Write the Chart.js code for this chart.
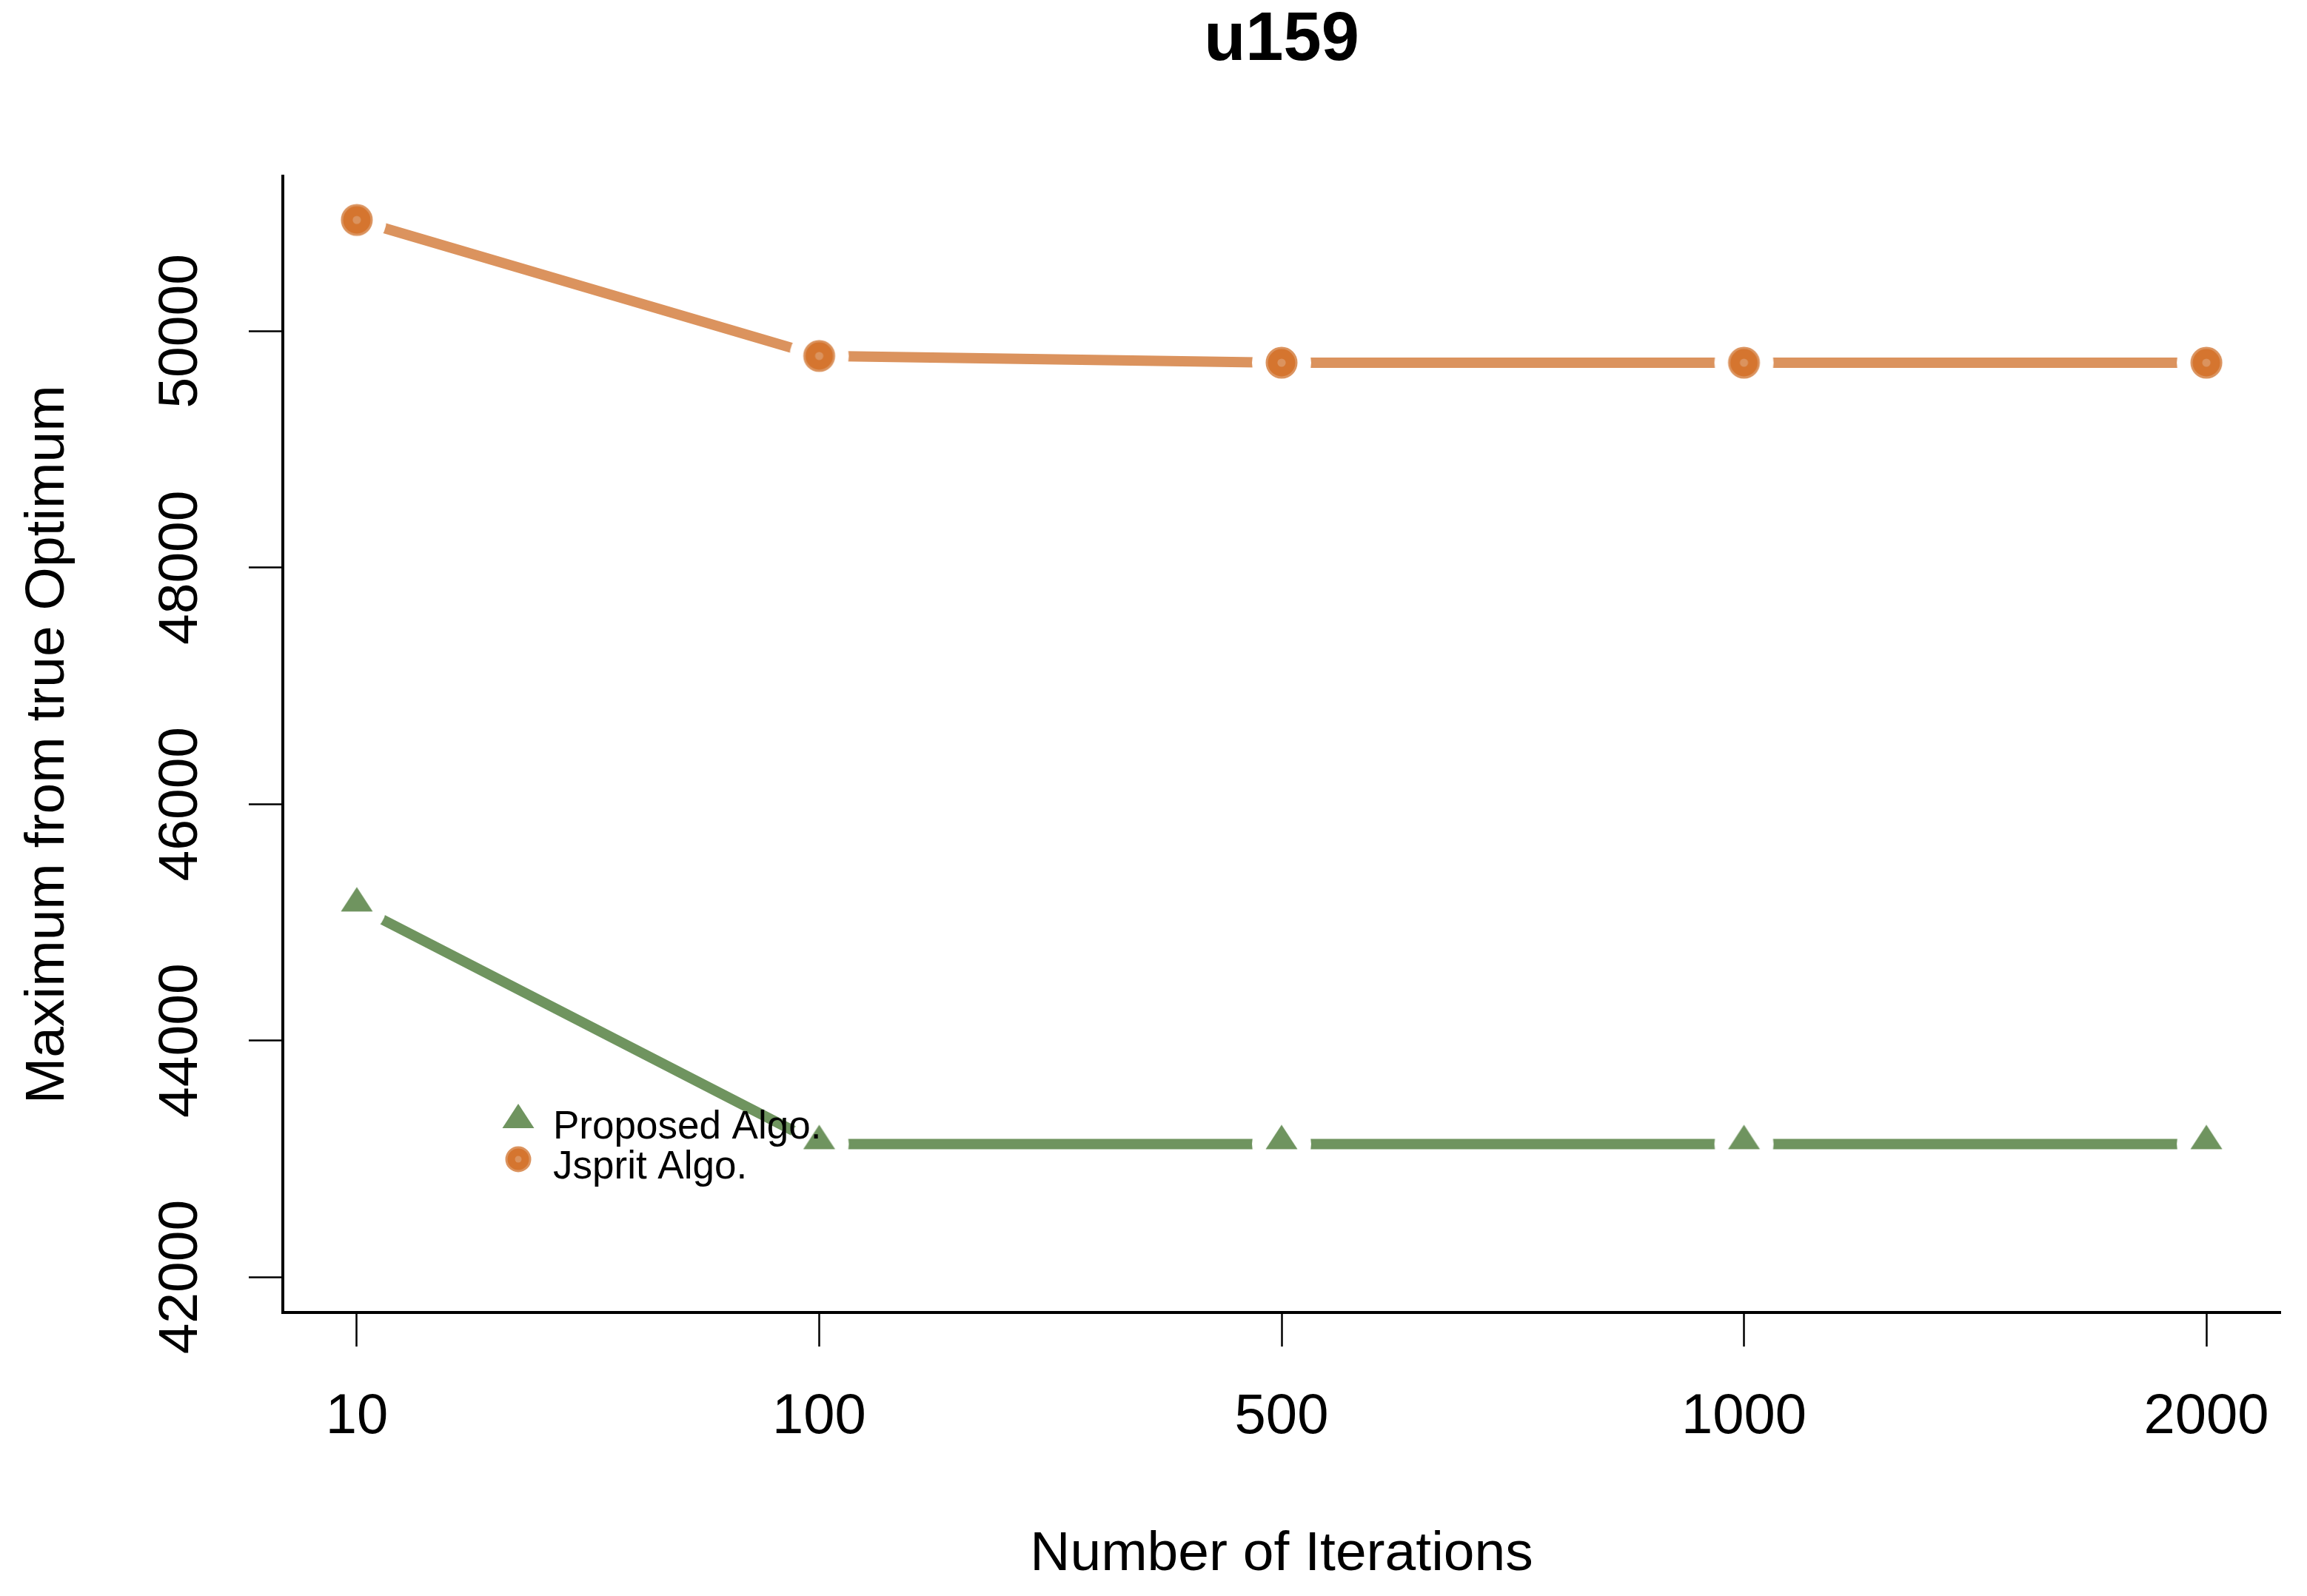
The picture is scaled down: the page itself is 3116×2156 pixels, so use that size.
<!DOCTYPE html>
<html>
<head>
<meta charset="utf-8">
<title>u159</title>
<script src="https://cdn.jsdelivr.net/npm/chart.js@4.4.1/dist/chart.umd.min.js"></script>
<style>
  html, body { margin: 0; padding: 0; background: #fff; }
  #wrap { width: 3116px; height: 2156px; }
</style>
</head>
<body>
<div id="wrap"><canvas id="chart" width="3116" height="2156"></canvas></div>
<script>
// data
const iterations = ['10', '100', '500', '1000', '2000'];
const proposedAlgo = [45135, 43125, 43125, 43125, 43125];
const jspritAlgo = [50940, 49790, 49733, 49733, 49733];
const yTicks = [42000, 44000, 46000, 48000, 50000];
const seriesNames = ['Proposed Algo.', 'Jsprit Algo.'];

const FONT = '"Liberation Sans", Arial, sans-serif';
const GREEN = '#6f945f';
const ORANGE = '#db935e';
const ORANGE_DARK = '#d5752f';

// R style markers (pch 17 / pch 21-ish)
function drawShape(g, kind, cx, cy, r) {
  if (kind === 'triangle') {
    g.fillStyle = GREEN;
    g.beginPath();
    g.moveTo(cx, cy - 26);
    g.lineTo(cx + 21.5, cy + 7);
    g.lineTo(cx - 21.5, cy + 7);
    g.closePath();
    g.fill();
  } else {
    g.fillStyle = ORANGE_DARK;
    g.strokeStyle = ORANGE;
    g.lineWidth = 3;
    g.beginPath();
    g.arc(cx, cy, r, 0, Math.PI * 2);
    g.fill();
    g.stroke();
    g.fillStyle = ORANGE;
    g.beginPath();
    g.arc(cx, cy, r * 0.28, 0, Math.PI * 2);
    g.fill();
  }
}

// point image with white halo so the line stops short of the marker (type = "b")
function makeMarker(kind) {
  const c = document.createElement('canvas');
  c.width = 84;
  c.height = 84;
  const g = c.getContext('2d');
  g.fillStyle = '#ffffff';
  g.beginPath();
  g.arc(42, 42, 40, 0, Math.PI * 2);
  g.fill();
  drawShape(g, kind, 42, 42, 20);
  return c;
}

const rotatedYLabels = {
  id: 'rotatedYLabels',
  afterDraw(chart) {
    const ctx = chart.ctx;
    const ys = chart.scales.y;
    ctx.save();
    ctx.fillStyle = '#000';
    ctx.font = '75px ' + FONT;
    ctx.textAlign = 'center';
    ctx.textBaseline = 'middle';
    ys.ticks.forEach(t => {
      const y = ys.getPixelForValue(t.value);
      ctx.save();
      ctx.translate(245, y);
      ctx.rotate(-Math.PI / 2);
      ctx.fillText(String(t.value), 0, 0);
      ctx.restore();
    });
    ctx.restore();
  }
};

const insideLegend = {
  id: 'insideLegend',
  afterDatasetsDraw(chart) {
    const ctx = chart.ctx;
    ctx.save();
    drawShape(ctx, 'triangle', 700, 1517, 0);
    drawShape(ctx, 'circle', 700, 1566, 16);
    ctx.fillStyle = '#000';
    ctx.font = '53px ' + FONT;
    ctx.textAlign = 'left';
    ctx.textBaseline = 'alphabetic';
    ctx.fillText(seriesNames[0], 747, 1538);
    ctx.fillText(seriesNames[1], 747, 1592);
    ctx.restore();
  }
};

const toPoints = arr => arr.map((v, i) => ({ x: i + 1, y: v }));

new Chart(document.getElementById('chart'), {
  type: 'line',
  data: {
    datasets: [
      {
        label: seriesNames[0],
        data: toPoints(proposedAlgo),
        borderColor: GREEN,
        borderWidth: 14,
        tension: 0,
        pointStyle: makeMarker('triangle'),
        pointRadius: 20
      },
      {
        label: seriesNames[1],
        data: toPoints(jspritAlgo),
        borderColor: ORANGE,
        borderWidth: 14,
        tension: 0,
        pointStyle: makeMarker('circle'),
        pointRadius: 20
      }
    ]
  },
  options: {
    responsive: false,
    animation: false,
    devicePixelRatio: 1,
    layout: { padding: { left: 0, right: 36, top: 0, bottom: 0 } },
    plugins: {
      legend: { display: false },
      tooltip: { enabled: false },
      title: {
        display: true,
        text: 'u159',
        fullSize: false,
        color: '#000',
        font: { family: FONT, size: 92, weight: 'bold' },
        padding: { top: 0, bottom: 128 }
      }
    },
    scales: {
      x: {
        type: 'linear',
        bounds: 'data',
        min: 0.84,
        max: 5.16,
        afterBuildTicks: s => { s.ticks = iterations.map((_, i) => ({ value: i + 1 })); },
        afterFit: s => { s.height = 383; },
        ticks: {
          callback: v => iterations[v - 1],
          color: '#000',
          font: { family: FONT, size: 76 },
          padding: 50,
          maxRotation: 0,
          autoSkip: false
        },
        grid: { drawOnChartArea: false, drawTicks: true, tickLength: 46, tickWidth: 2.5, tickColor: '#000' },
        border: { display: true, color: '#000', width: 4 },
        title: {
          display: true,
          text: 'Number of Iterations',
          color: '#000',
          font: { family: FONT, size: 75 },
          padding: { top: 0, bottom: 11 }
        }
      },
      y: {
        type: 'linear',
        bounds: 'data',
        min: 41700,
        max: 51308,
        afterBuildTicks: s => { s.ticks = yTicks.map(v => ({ value: v })); },
        afterFit: s => { s.width = 382; },
        ticks: { display: false },
        grid: { drawOnChartArea: false, drawTicks: true, tickLength: 46, tickWidth: 2.5, tickColor: '#000' },
        border: { display: true, color: '#000', width: 4 },
        title: {
          display: true,
          text: 'Maximum from true Optimum',
          color: '#000',
          font: { family: FONT, size: 75 },
          padding: { top: 20, bottom: 0 }
        }
      }
    }
  },
  plugins: [rotatedYLabels, insideLegend]
});
</script>
</body>
</html>
